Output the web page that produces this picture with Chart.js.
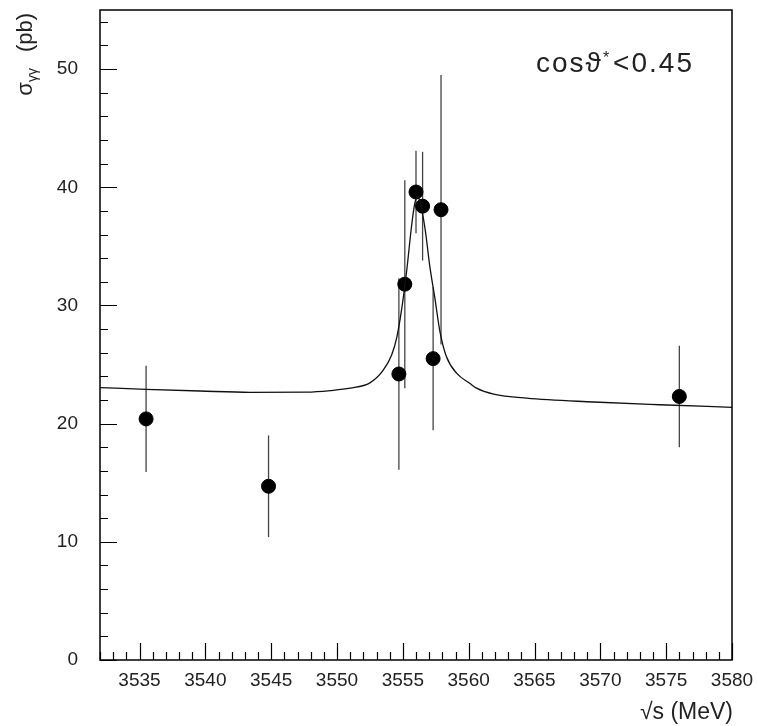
<!DOCTYPE html>
<html>
<head>
<title>sigma gamma gamma scan</title>
<script src="https://cdn.jsdelivr.net/npm/chart.js"></script>
<style>
  html, body { margin: 0; padding: 0; background: #fff; }
  #wrap { width: 757px; height: 726px; }
</style>
</head>
<body>
<div id="wrap"><canvas id="scan"></canvas></div>
<script>
// measured cross sections (pb) vs sqrt(s) (MeV)
const energy   = [3535.5, 3544.8, 3554.7, 3555.15, 3556.0, 3556.5, 3557.3, 3557.9, 3576.0];
const sigma    = [20.4,   14.7,   24.2,   31.8,    39.6,   38.4,   25.5,   38.1,   22.3];
const sigmaErr = [4.5,    4.3,    8.1,    8.8,     3.5,    4.6,    6.05,   11.4,   4.3];

// fitted curve
const fitEnergy = [3532, 3535.5, 3539.6, 3543.4, 3547.7, 3549.5, 3551.0, 3552.5, 3553.5, 3554.15,
                   3554.55, 3554.9, 3555.3, 3555.65, 3555.9, 3556.1, 3556.3, 3556.7, 3557.05, 3557.45,
                   3557.8, 3558.3, 3559.1, 3560.1, 3560.6, 3561.9, 3564.4, 3569.5, 3574.5, 3580];
const fitSigma  = [23.05, 22.9, 22.76, 22.65, 22.67, 22.8, 23.0, 23.45, 24.5, 25.8,
                   27.35, 29.6, 33.0, 36.6, 38.6, 39.2, 38.8, 36.4, 33.3, 30.5,
                   27.9, 25.7, 24.25, 23.4, 23.0, 22.5, 22.15, 21.83, 21.6, 21.38];

const xMin = 3532, xMax = 3580, xMajor = 5, xMinor = 1;
const yMin = 0, yMax = 55, yMajor = 10, yMinor = 2;

const font = "'Liberation Sans', Arial, sans-serif";
const ink = '#222';

const extras = {
  id: 'extras',
  beforeDatasetsDraw(chart) {
    const ctx = chart.ctx, xs = chart.scales.x, ys = chart.scales.y;
    ctx.save();
    ctx.strokeStyle = '#444';
    ctx.lineWidth = 1.3;
    for (let i = 0; i < energy.length; i++) {
      const px = xs.getPixelForValue(energy[i]);
      ctx.beginPath();
      ctx.moveTo(px, ys.getPixelForValue(sigma[i] + sigmaErr[i]));
      ctx.lineTo(px, ys.getPixelForValue(sigma[i] - sigmaErr[i]));
      ctx.stroke();
    }
    ctx.restore();
  },
  afterDraw(chart) {
    const ctx = chart.ctx, a = chart.chartArea, xs = chart.scales.x, ys = chart.scales.y;
    ctx.save();
    // frame
    ctx.strokeStyle = '#000';
    ctx.lineWidth = 1.5;
    ctx.strokeRect(a.left, a.top, a.right - a.left, a.bottom - a.top);

    // inward tick marks
    ctx.lineWidth = 1.2;
    ctx.beginPath();
    for (let v = xMin; v <= xMax + 1e-6; v += xMinor) {
      const px = Math.round(xs.getPixelForValue(v)) + 0.5;
      const len = (Math.abs(v / xMajor - Math.round(v / xMajor)) < 1e-6) ? 17 : 8;
      ctx.moveTo(px, a.bottom);
      ctx.lineTo(px, a.bottom - len);
    }
    for (let v = yMin; v <= yMax + 1e-6; v += yMinor) {
      const py = Math.round(ys.getPixelForValue(v)) + 0.5;
      const len = (v % yMajor === 0) ? 17 : 8;
      ctx.moveTo(a.left, py);
      ctx.lineTo(a.left + len, py);
    }
    ctx.stroke();

    ctx.fillStyle = ink;
    // x title
    ctx.font = '23px ' + font;
    ctx.textAlign = 'right';
    ctx.textBaseline = 'alphabetic';
    ctx.fillText('\u221As (MeV)', a.right + 1, 719);

    // y title, rotated
    ctx.save();
    ctx.translate(32, 13);
    ctx.rotate(-Math.PI / 2);
    ctx.textAlign = 'left';
    ctx.font = '22px ' + font;
    const wPb = ctx.measureText('(pb)').width;
    ctx.font = '14px ' + font;
    const wSub = ctx.measureText('\u03B3\u03B3').width;
    ctx.font = '22px ' + font;
    const wSig = ctx.measureText('\u03C3').width;
    const gap = 16;
    let cx = -(wSig + wSub + gap + wPb);
    ctx.fillText('\u03C3', cx, 0);
    cx += wSig;
    ctx.font = '14px ' + font;
    ctx.fillText('\u03B3\u03B3', cx, 5);
    cx += wSub + gap;
    ctx.font = '22px ' + font;
    ctx.fillText('(pb)', cx, 0);
    ctx.restore();

    // selection label
    ctx.font = '28px ' + font;
    ctx.textAlign = 'left';
    ctx.letterSpacing = '2px';
    let tx = 536;
    const base = 72;
    ctx.fillText('cos\u03D1', tx, base);
    tx += ctx.measureText('cos\u03D1').width;
    ctx.font = '16px ' + font;
    ctx.fillText('*', tx, base - 9);
    tx += ctx.measureText('*').width + 2;
    ctx.font = '28px ' + font;
    ctx.fillText('<0.45', tx, base);
    ctx.restore();
  }
};

new Chart(document.getElementById('scan'), {
  type: 'scatter',
  data: {
    datasets: [
      {
        type: 'line',
        label: 'fit',
        data: fitEnergy.map((e, i) => ({ x: e, y: fitSigma[i] })),
        borderColor: '#111',
        borderWidth: 1.3,
        pointRadius: 0,
        cubicInterpolationMode: 'monotone',
        fill: false
      },
      {
        label: 'data',
        data: energy.map((e, i) => ({ x: e, y: sigma[i] })),
        backgroundColor: '#000',
        borderColor: '#000',
        pointRadius: 7,
        pointHoverRadius: 7
      }
    ]
  },
  options: {
    responsive: true,
    maintainAspectRatio: false,
    animation: false,
    layout: { padding: { left: 0, right: 25, top: 10, bottom: 0 } },
    plugins: { legend: { display: false }, tooltip: { enabled: false } },
    scales: {
      x: {
        type: 'linear',
        min: xMin,
        max: xMax,
        grid: { display: false, drawTicks: false },
        border: { display: false },
        ticks: {
          stepSize: xMajor,
          includeBounds: false,
          padding: 9,
          color: ink,
          font: { family: font, size: 19 },
          callback: v => String(v)
        },
        afterFit: s => { s.height = 66; s.paddingLeft = 0; s.paddingRight = 0; }
      },
      y: {
        type: 'linear',
        min: yMin,
        max: yMax,
        grid: { display: false, drawTicks: false },
        border: { display: false },
        ticks: {
          stepSize: yMajor,
          includeBounds: false,
          padding: 22,
          color: ink,
          font: { family: font, size: 19 }
        },
        afterFit: s => { s.width = 100; s.paddingTop = 0; s.paddingBottom = 0; }
      }
    }
  },
  plugins: [extras]
});
</script>
</body>
</html>
